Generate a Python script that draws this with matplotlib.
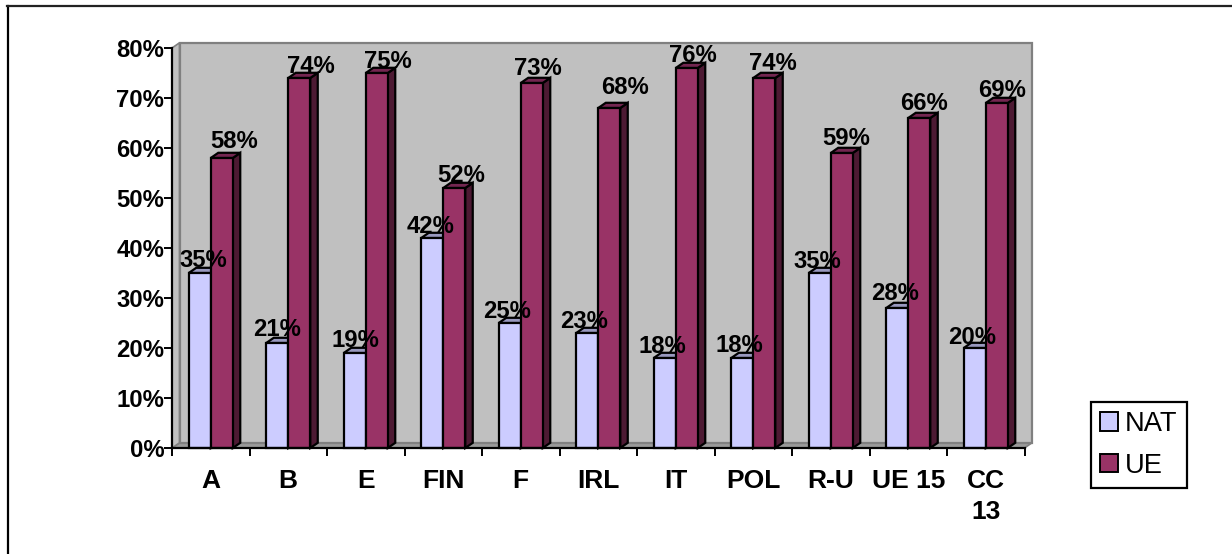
import matplotlib
matplotlib.use("Agg")
import matplotlib.pyplot as plt
from matplotlib.lines import Line2D
from matplotlib.patches import Patch, Polygon, Rectangle
from matplotlib.ticker import FixedLocator, FuncFormatter

plt.rcParams['font.family'] = ['Liberation Sans', 'DejaVu Sans']

categories = ['A', 'B', 'E', 'FIN', 'F', 'IRL', 'IT', 'POL', 'R-U', 'UE 15', 'CC\n13']
nat_values = [35, 21, 19, 42, 25, 23, 18, 18, 35, 28, 20]
ue_values = [58, 74, 75, 52, 73, 68, 76, 74, 59, 66, 69]
y_ticks = [0, 10, 20, 30, 40, 50, 60, 70, 80]
series_names = ['NAT', 'UE']

# label nudges in pixels from the front top centre of each bar (the original places them unevenly)
nat_nudge_x = [3.2, -0.5, 0.2, -2.0, -3.0, -3.5, -2.0, -3.2, -2.0, -2.0, -2.8]
nat_nudge_y = [12.8, 13.1, 12.8, 11.8, 11.8, 11.8, 11.8, 12.5, 11.8, 14.1, 10.1]
ue_nudge_x = [12.5, 11.8, 11.0, 6.8, 6.0, 16.0, 6.2, 9.0, 4.5, 4.5, 5.5]
ue_nudge_y = [16.8, 11.8, 11.8, 12.8, 14.1, 20.1, 12.8, 14.5, 14.5, 14.1, 12.8]

W, H = 1232, 554
fig = plt.figure(figsize=(W / 100, H / 100), dpi=100, facecolor='white')
L, R, T, B = 172, 1024.5, 48, 448
ax = fig.add_axes([L / W, 1 - B / H, (R - L) / W, (B - T) / H])
ax.set_xlim(-0.5, len(categories) - 0.5)
ax.set_ylim(0, 80)
ax.patch.set_visible(False)

cat_px = (R - L) / len(categories)
dx = 7.5 / cat_px
dy = 5.2 * 80 / (B - T)
bw = 22.0 / cat_px

WALL = '#C0C0C0'
EDGE = '#808080'
x0, x1 = -0.5, len(categories) - 0.5

# walls and floor
ax.add_patch(Polygon([(x0, 0), (x0 + dx, dy), (x1 + dx, dy), (x1, 0)], closed=True,
                     fc='#9A9A9A', ec=EDGE, lw=1.2, zorder=1, clip_on=False))
ax.add_patch(Polygon([(x0, 0), (x0, 80), (x0 + dx, 80 + dy), (x0 + dx, dy)], closed=True,
                     fc=WALL, ec=EDGE, lw=1.2, zorder=1, clip_on=False))
ax.add_patch(Rectangle((x0 + dx, dy), x1 - x0, 80, fc=WALL, ec=EDGE, lw=1.6, zorder=1, clip_on=False))


def draw_series(positions, values, face, top, side, z):
    ax.bar(positions, values, width=bw, color=face, edgecolor='black', linewidth=1.6,
           zorder=z + 1, clip_on=False)
    for p, v in zip(positions, values):
        l, r = p - bw / 2, p + bw / 2
        ax.add_patch(Polygon([(r, 0), (r + dx, dy), (r + dx, v + dy), (r, v)], closed=True,
                             fc=side, ec='black', lw=1.6, zorder=z, clip_on=False))
        ax.add_patch(Polygon([(l, v), (l + dx, v + dy), (r + dx, v + dy), (r, v)], closed=True,
                             fc=top, ec='black', lw=1.6, zorder=z, clip_on=False))


xs = list(range(len(categories)))
draw_series([x - bw / 2 for x in xs], nat_values, '#CCCCFF', '#9999BF', '#666680', 2)
draw_series([x + bw / 2 for x in xs], ue_values, '#993366', '#732650', '#4D1A33', 4)

# data labels
LABEL_PT = 17.2
for i, x in enumerate(xs):
    ax.annotate(f'{nat_values[i]}%', (x - bw / 2, nat_values[i]),
                xytext=(nat_nudge_x[i] * 0.72, nat_nudge_y[i] * 0.72), textcoords='offset points',
                ha='center', va='center', fontsize=LABEL_PT, fontweight='bold', color='black',
                zorder=10, annotation_clip=False)
    ax.annotate(f'{ue_values[i]}%', (x + bw / 2, ue_values[i]),
                xytext=(ue_nudge_x[i] * 0.72, ue_nudge_y[i] * 0.72), textcoords='offset points',
                ha='center', va='center', fontsize=LABEL_PT, fontweight='bold', color='black',
                zorder=10, annotation_clip=False)

# axes
for s in ('top', 'right'):
    ax.spines[s].set_visible(False)
for s in ('left', 'bottom'):
    ax.spines[s].set_linewidth(1.6)
    ax.spines[s].set_zorder(8)
ax.set_yticks(y_ticks)
ax.yaxis.set_major_formatter(FuncFormatter(lambda v, _: f'{int(v)}%'))
ax.tick_params(axis='y', length=5.5, width=1.4, pad=0)
for t in ax.get_yticklabels():
    t.set_fontsize(LABEL_PT)
    t.set_fontweight('bold')
ax.xaxis.set_major_locator(FixedLocator([i - 0.5 for i in range(len(categories) + 1)]))
ax.xaxis.set_major_formatter(FuncFormatter(lambda v, _: ''))
ax.set_xticks(xs, categories, minor=True)
ax.tick_params(axis='x', which='major', length=5.5, width=1.4)
ax.tick_params(axis='x', which='minor', length=0, pad=15, labelsize=19.0)
for t in ax.get_xticklabels(minor=True):
    t.set_fontweight('bold')
    t.set_linespacing(1.4)

# outer frame
fig.add_artist(Line2D([8 / W, 8 / W], [0, 1 - 6 / H], color='black', lw=1.6))
fig.add_artist(Line2D([7 / W, 1], [1 - 6 / H, 1 - 6 / H], color='#222222', lw=1.6))

# legend
handles = [Patch(fc='#CCCCFF', ec='black', lw=1.4), Patch(fc='#993366', ec='black', lw=1.4)]
leg = fig.legend(handles, series_names, loc='upper left',
                 bbox_to_anchor=(1091 / W, 1 - 402 / H), bbox_transform=fig.transFigure,
                 fontsize=19.6, frameon=True, fancybox=False, edgecolor='black', framealpha=1,
                 handlelength=0.66, handleheight=0.66, handletextpad=0.26,
                 borderpad=0.33, borderaxespad=0, labelspacing=0.58)
leg.get_frame().set_linewidth(1.6)

fig.savefig('out.png', dpi=100, facecolor='white')
